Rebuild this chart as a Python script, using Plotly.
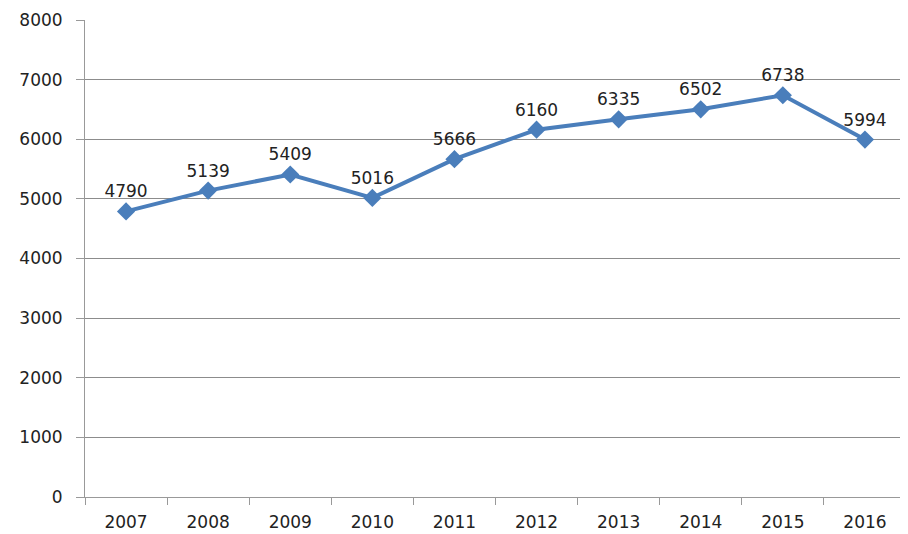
import plotly.graph_objects as go

years = ["2007", "2008", "2009", "2010", "2011", "2012", "2013", "2014", "2015", "2016"]
values = [4790, 5139, 5409, 5016, 5666, 6160, 6335, 6502, 6738, 5994]
y_ticks = [0, 1000, 2000, 3000, 4000, 5000, 6000, 7000, 8000]

FONT = "DejaVu Sans, Liberation Sans, Arial, sans-serif"

fig = go.Figure()
fig.add_trace(go.Scatter(
    x=years, y=values,
    mode="lines+markers+text",
    text=[str(v) for v in values],
    textposition="top center",
    textfont=dict(family=FONT, size=17, color="#222222"),
    line=dict(color="#4a7ebb", width=4),
    marker=dict(symbol="diamond", size=14, color="#4a7ebb"),
    cliponaxis=False,
))

# page body adds an 8px offset, so the figure is sized/margined to compensate
fig.update_layout(
    width=900, height=526,
    margin=dict(l=77, r=2, t=12, b=37),
    paper_bgcolor="white", plot_bgcolor="white",
    showlegend=False,
    font=dict(family=FONT, size=17, color="#222222"),
)
fig.update_xaxes(
    type="category",
    range=[-0.5, len(years) - 0.5],
    showgrid=False,
    showline=True, linecolor="#999999", linewidth=1,
    ticks="outside", tickson="boundaries", ticklen=7, tickcolor="#999999",
    tickfont=dict(size=17),
    ticklabelstandoff=10,
    automargin=False,
)
fig.update_yaxes(
    range=[0, 8000],
    tickvals=y_ticks,
    showgrid=True, gridcolor="#8c8c8c", gridwidth=1,
    showline=True, linecolor="#999999", linewidth=1,
    ticks="outside", ticklen=8, tickcolor="#999999",
    zeroline=False,
    tickfont=dict(size=17),
    ticklabelstandoff=10,
    automargin=False,
)

fig.write_html("out.html")
